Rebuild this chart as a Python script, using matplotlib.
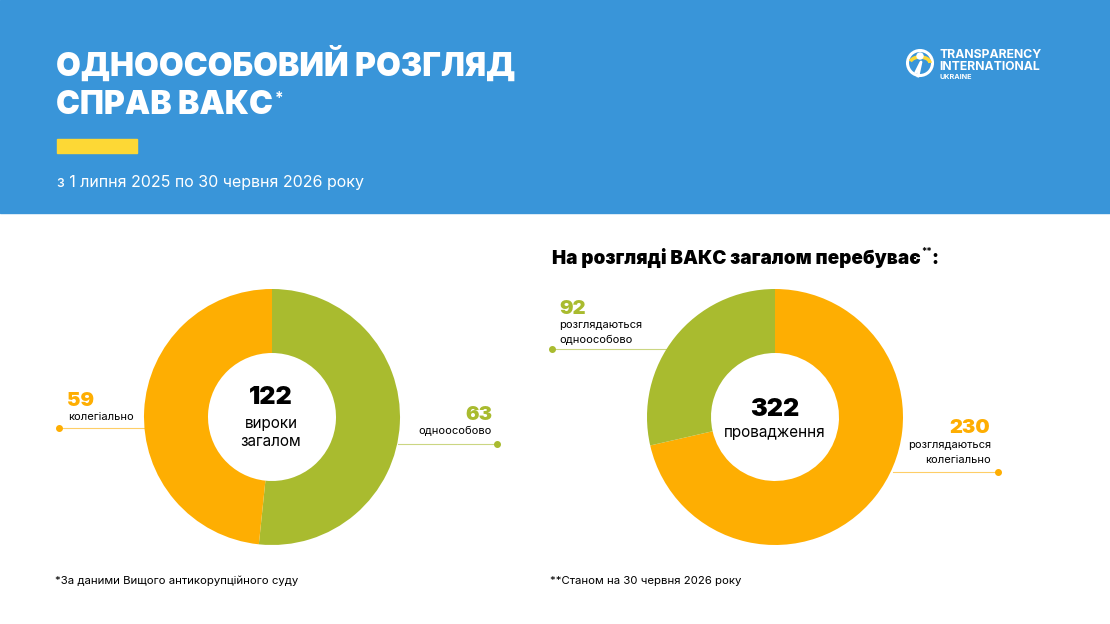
import numpy as np
import matplotlib.pyplot as plt
from matplotlib.patches import Rectangle, Circle, Arc

plt.rcParams['font.family'] = ['Inter', 'DejaVu Sans']

# дані
verdicts_labels = ['одноособово', 'колегіально']
verdicts_values = [63, 59]
cases_labels = ['розглядаються\nколегіально', 'розглядаються\nодноособово']
cases_values = [230, 92]

GREEN = '#a9bb2f'
ORANGE = '#feae02'
BLUE = '#3995d9'
YELLOW = '#fdd835'

W, H = 1110, 624
fig = plt.figure(figsize=(W / 100, H / 100), dpi=100)
renderer = fig.canvas.get_renderer()

# фонова вісь у пікселях
bg = fig.add_axes([0, 0, 1, 1])
bg.set_xlim(0, W)
bg.set_ylim(H, 0)
bg.axis('off')


def right_edge(t):
    # правий край тексту в піксельних координатах
    bb = t.get_window_extent(renderer)
    return bb.x1


bg.add_patch(Rectangle((0, 0), W, 213, color=BLUE, zorder=0))
bg.add_patch(Rectangle((57, 139), 80, 14, color=YELLOW, zorder=1))

bg.text(56, 76, 'ОДНООСОБОВИЙ РОЗГЛЯД', color='white', fontsize=23,
        fontweight='black', va='baseline', ha='left')
t = bg.text(56, 114, 'СПРАВ ВАКС', color='white', fontsize=23,
            fontweight='black', va='baseline', ha='left')
bg.text(right_edge(t) + 2, 103, '*', color='white', fontsize=11,
        fontweight='bold', va='baseline', ha='left')
bg.text(57, 183, 'з 1 липня 2025 по 30 червня 2026 року', color='white',
        fontsize=11.5, va='center', ha='left')

# логотип
bg.add_patch(Circle((920, 63), 12.5, facecolor='none', edgecolor='white', lw=2.2))
bg.add_patch(Arc((920, 63), 20, 12, theta1=190, theta2=360, color=YELLOW, lw=2.6))
bg.add_patch(Circle((920, 56), 3, color='white'))
bg.plot([916, 921, 918], [72, 62, 76], color='white', lw=2)
bg.text(939, 58.5, 'TRANSPARENCY', color='white', fontsize=8.8,
        fontweight='bold', va='baseline', ha='left')
bg.text(939, 69.5, 'INTERNATIONAL', color='white', fontsize=8.8,
        fontweight='bold', va='baseline', ha='left')
bg.text(940, 79, 'UKRAINE', color='white', fontsize=5.2,
        fontweight='bold', va='baseline', ha='left')


def donut(cx, cy, values, colors, R=128, r=64):
    ax = fig.add_axes([(cx - R) / W, 1 - (cy + R) / H, 2 * R / W, 2 * R / H])
    ax.pie(values, colors=colors, startangle=90, counterclock=False,
           wedgeprops=dict(width=1 - r / R, linewidth=0))
    ax.set_xlim(-1, 1)
    ax.set_ylim(-1, 1)
    ax.set_aspect('equal')
    ax.axis('off')
    return ax


# ліва діаграма
ax1 = donut(272, 417, verdicts_values, [GREEN, ORANGE])
bg.text(271, 404, str(sum(verdicts_values)), fontsize=18, fontweight='black',
        ha='center', va='baseline')
bg.text(271, 428, 'вироки', fontsize=11, ha='center', va='baseline')
bg.text(271, 446, 'загалом', fontsize=11, ha='center', va='baseline')

bg.plot([59, 146], [428, 428], color=ORANGE, lw=0.8, alpha=0.6)
bg.plot([59], [428], 'o', color=ORANGE, ms=4)
bg.text(67, 406, str(verdicts_values[1]), color=ORANGE, fontsize=14.5,
        fontweight='black', ha='left', va='baseline')
bg.text(68, 420, verdicts_labels[1], fontsize=8, ha='left', va='baseline')

bg.plot([398, 497], [444, 444], color=GREEN, lw=0.8, alpha=0.6)
bg.plot([497], [444], 'o', color=GREEN, ms=4)
bg.text(492, 420, str(verdicts_values[0]), color=GREEN, fontsize=14.5,
        fontweight='black', ha='right', va='baseline')
bg.text(492, 434, verdicts_labels[0], fontsize=8, ha='right', va='baseline')

# права діаграма
t = bg.text(552, 264, 'На розгляді ВАКС загалом перебуває', fontsize=13.6,
            fontweight='black', ha='left', va='baseline')
x = right_edge(t)
bg.text(x + 1, 255, '**', fontsize=7, fontweight='bold', ha='left', va='baseline')
bg.text(x + 11, 264, ':', fontsize=13.6, fontweight='black', ha='left', va='baseline')

ax2 = donut(775, 417, cases_values, [ORANGE, GREEN])
bg.text(775, 416, str(sum(cases_values)), fontsize=18, fontweight='black',
        ha='center', va='baseline')
bg.text(775, 437, 'провадження', fontsize=11, ha='center', va='baseline')

bg.plot([552, 666], [349, 349], color=GREEN, lw=0.8, alpha=0.6)
bg.plot([552], [349], 'o', color=GREEN, ms=4)
bg.text(559, 314, str(cases_values[1]), color=GREEN, fontsize=14.5,
        fontweight='black', ha='left', va='baseline')
bg.text(559, 328, cases_labels[1].split('\n')[0], fontsize=8, ha='left', va='baseline')
bg.text(559, 343, cases_labels[1].split('\n')[1], fontsize=8, ha='left', va='baseline')

bg.plot([893, 998], [472, 472], color=ORANGE, lw=0.8, alpha=0.6)
bg.plot([998], [472], 'o', color=ORANGE, ms=4)
bg.text(990, 433, str(cases_values[0]), color=ORANGE, fontsize=14.5,
        fontweight='black', ha='right', va='baseline')
bg.text(991, 448, cases_labels[0].split('\n')[0], fontsize=8, ha='right', va='baseline')
bg.text(991, 463, cases_labels[0].split('\n')[1], fontsize=8, ha='right', va='baseline')

# примітки
bg.text(55, 581, '*За даними Вищого антикорупційного суду', fontsize=8.2,
        ha='left', va='center')
bg.text(550, 581, '**Станом на 30 червня 2026 року', fontsize=8.2,
        ha='left', va='center')

fig.savefig('out.png', dpi=100)
